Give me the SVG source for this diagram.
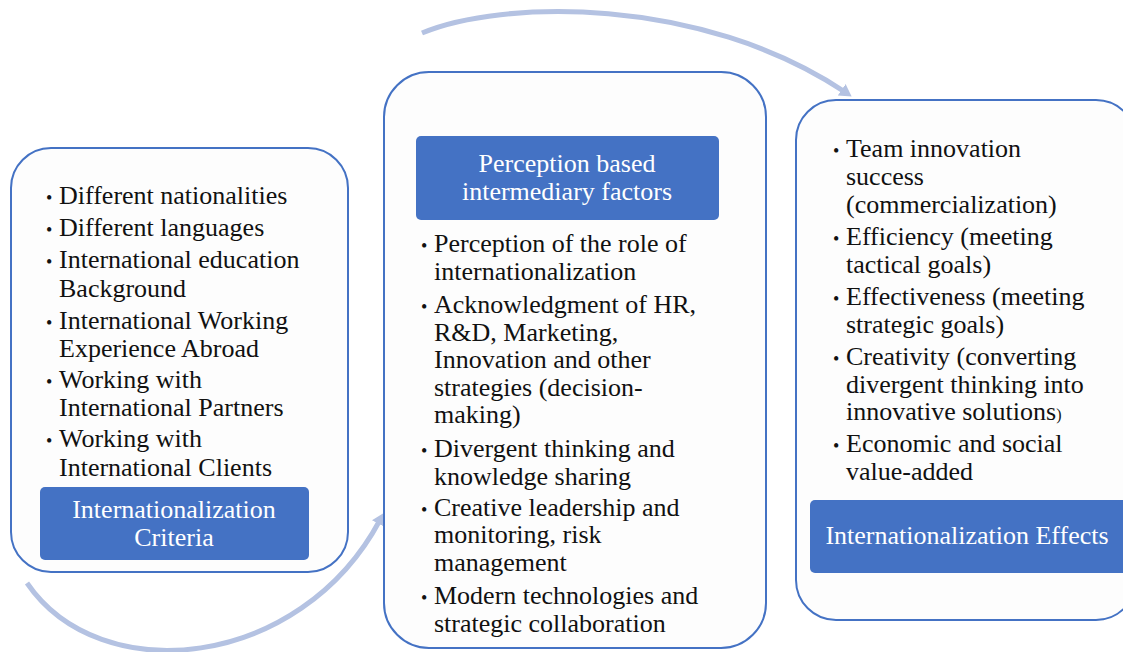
<svg xmlns="http://www.w3.org/2000/svg" width="1123" height="652" viewBox="0 0 1123 652">
<style>
.box{fill:#FDFDFD;stroke:#4472C4;stroke-width:2}
.lbl{fill:#4472C4}
.t{font-family:"Liberation Serif","Tinos","Times New Roman","Nimbus Roman","Nimbus Roman No9 L","FreeSerif","Noto Serif","DejaVu Serif",serif;font-size:26px;fill:#111}
.w{font-family:"Liberation Serif","Tinos","Times New Roman","Nimbus Roman","Nimbus Roman No9 L","FreeSerif","Noto Serif","DejaVu Serif",serif;font-size:26px;fill:#FFFFFF;text-anchor:middle}
.b{font-size:18px}
.arc{fill:none;stroke:#B4C2E2;stroke-width:5}
</style>
<defs>
<marker id="ah" markerUnits="userSpaceOnUse" markerWidth="20" markerHeight="20" refX="4" refY="7" orient="auto">
<path d="M0,0 L12,7 L0,14 Z" fill="#B4C2E2"/>
</marker>
</defs>
<rect width="1123" height="652" fill="#FFFFFF"/>
<g id="connectors">
<path class="arc" d="M27,583 C100,690 300,670 380,520" marker-end="url(#ah)"/>
<path class="arc" d="M422,33 C500,0 700,-5 845,92" marker-end="url(#ah)"/>
</g>
<g id="criteria">
<rect class="box" x="11" y="148" width="337" height="424" rx="40"/>
<text class="t"><tspan class="b" x="46" y="204">•</tspan><tspan x="59" y="204">Different nationalities</tspan>
<tspan class="b" x="46" y="236">•</tspan><tspan x="59" y="236">Different languages</tspan>
<tspan class="b" x="46" y="268">•</tspan><tspan x="59" y="268">International education</tspan>
<tspan x="59" y="297">Background</tspan>
<tspan class="b" x="46" y="329">•</tspan><tspan x="59" y="329">International Working</tspan>
<tspan x="59" y="357">Experience Abroad</tspan>
<tspan class="b" x="46" y="388">•</tspan><tspan x="59" y="388">Working with</tspan>
<tspan x="59" y="416">International Partners</tspan>
<tspan class="b" x="46" y="447">•</tspan><tspan x="59" y="447">Working with</tspan>
<tspan x="59" y="476">International Clients</tspan></text>
<rect class="lbl" x="40" y="487" width="269" height="73" rx="5"/>
<text class="w"><tspan x="174" y="518">Internationalization</tspan><tspan x="174" y="546">Criteria</tspan></text>
</g>
<g id="intermediary">
<rect class="box" x="384" y="72" width="382" height="576" rx="45"/>
<rect class="lbl" x="416" y="136" width="303" height="84" rx="5"/>
<text class="w"><tspan x="567" y="172">Perception based</tspan><tspan x="567" y="200">intermediary  factors</tspan></text>
<text class="t"><tspan class="b" x="421" y="252">•</tspan><tspan x="434" y="252">Perception of the role of</tspan>
<tspan x="434" y="280">internationalization</tspan>
<tspan class="b" x="421" y="313">•</tspan><tspan x="434" y="313">Acknowledgment of HR,</tspan>
<tspan x="434" y="341">R&amp;D, Marketing,</tspan>
<tspan x="434" y="368">Innovation and other</tspan>
<tspan x="434" y="396">strategies (decision-</tspan>
<tspan x="434" y="423">making)</tspan>
<tspan class="b" x="421" y="457">•</tspan><tspan x="434" y="457">Divergent thinking and</tspan>
<tspan x="434" y="485">knowledge sharing</tspan>
<tspan class="b" x="421" y="516">•</tspan><tspan x="434" y="516">Creative leadership and</tspan>
<tspan x="434" y="543">monitoring, risk</tspan>
<tspan x="434" y="571">management</tspan>
<tspan class="b" x="421" y="604">•</tspan><tspan x="434" y="604">Modern technologies and</tspan>
<tspan x="434" y="632">strategic collaboration</tspan></text>
</g>
<g id="effects">
<rect class="box" x="796" y="100" width="340" height="520" rx="40"/>
<text class="t"><tspan class="b" x="833" y="157">•</tspan><tspan x="846" y="157">Team innovation</tspan>
<tspan x="846" y="185">success</tspan>
<tspan x="846" y="213">(commercialization)</tspan>
<tspan class="b" x="833" y="245">•</tspan><tspan x="846" y="245">Efficiency (meeting</tspan>
<tspan x="846" y="273">tactical goals)</tspan>
<tspan class="b" x="833" y="305">•</tspan><tspan x="846" y="305">Effectiveness (meeting</tspan>
<tspan x="846" y="333">strategic goals)</tspan>
<tspan class="b" x="833" y="365">•</tspan><tspan x="846" y="365">Creativity (converting</tspan>
<tspan x="846" y="393">divergent thinking into</tspan>
<tspan x="846" y="420">innovative solutions<tspan font-size="16px">)</tspan></tspan>
<tspan class="b" x="833" y="452">•</tspan><tspan x="846" y="452">Economic and social</tspan>
<tspan x="846" y="480">value-added</tspan></text>
<rect class="lbl" x="810" y="500" width="330" height="73" rx="5"/>
<text class="w"><tspan x="967" y="544">Internationalization Effects</tspan></text>
</g>
</svg>
